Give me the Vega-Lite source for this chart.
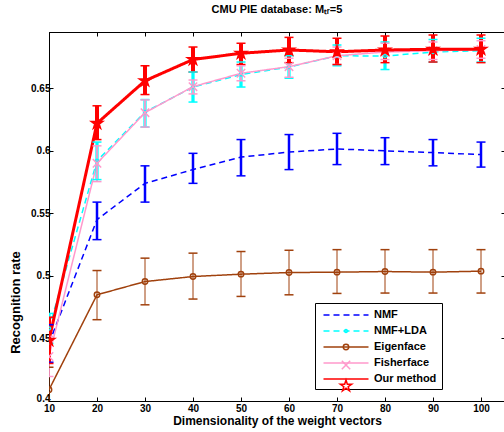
{
  "$schema": "https://vega.github.io/schema/vega-lite/v6.json",
  "width": 456,
  "height": 369,
  "autosize": "none",
  "padding": {"left": 49, "top": 32, "right": 0, "bottom": 31},
  "title": {"text": "CMU PIE database: Mₜᵣ=5", "fontSize": 11, "fontWeight": "bold", "font": "Liberation Sans", "anchor": "middle", "frame": "group", "baseline": "alphabetic", "offset": 8, "color": "black"},
  "data": {"values": [
    {"s": "NMF", "x": 10, "y": 0.446, "lo": 0.431, "hi": 0.461},
    {"s": "NMF", "x": 20, "y": 0.545, "lo": 0.529, "hi": 0.559},
    {"s": "NMF", "x": 30, "y": 0.574, "lo": 0.559, "hi": 0.588},
    {"s": "NMF", "x": 40, "y": 0.585, "lo": 0.574, "hi": 0.598},
    {"s": "NMF", "x": 50, "y": 0.595, "lo": 0.580, "hi": 0.609},
    {"s": "NMF", "x": 60, "y": 0.599, "lo": 0.585, "hi": 0.613},
    {"s": "NMF", "x": 70, "y": 0.6015, "lo": 0.589, "hi": 0.614},
    {"s": "NMF", "x": 80, "y": 0.600, "lo": 0.589, "hi": 0.6105},
    {"s": "NMF", "x": 90, "y": 0.5986, "lo": 0.588, "hi": 0.609},
    {"s": "NMF", "x": 100, "y": 0.597, "lo": 0.587, "hi": 0.607},
    {"s": "NMF+LDA", "x": 10, "y": 0.458, "lo": 0.446, "hi": 0.470},
    {"s": "NMF+LDA", "x": 20, "y": 0.592, "lo": 0.577, "hi": 0.607},
    {"s": "NMF+LDA", "x": 30, "y": 0.631, "lo": 0.619, "hi": 0.641},
    {"s": "NMF+LDA", "x": 40, "y": 0.651, "lo": 0.639, "hi": 0.663},
    {"s": "NMF+LDA", "x": 50, "y": 0.661, "lo": 0.651, "hi": 0.671},
    {"s": "NMF+LDA", "x": 60, "y": 0.667, "lo": 0.658, "hi": 0.676},
    {"s": "NMF+LDA", "x": 70, "y": 0.676, "lo": 0.668, "hi": 0.6846},
    {"s": "NMF+LDA", "x": 80, "y": 0.6758, "lo": 0.665, "hi": 0.687},
    {"s": "NMF+LDA", "x": 90, "y": 0.679, "lo": 0.671, "hi": 0.689},
    {"s": "NMF+LDA", "x": 100, "y": 0.680, "lo": 0.671, "hi": 0.690},
    {"s": "Eigenface", "x": 10, "y": 0.409, "lo": 0.391, "hi": 0.427},
    {"s": "Eigenface", "x": 20, "y": 0.4849, "lo": 0.465, "hi": 0.5043},
    {"s": "Eigenface", "x": 30, "y": 0.4955, "lo": 0.4769, "hi": 0.5142},
    {"s": "Eigenface", "x": 40, "y": 0.4995, "lo": 0.4815, "hi": 0.5182},
    {"s": "Eigenface", "x": 50, "y": 0.5014, "lo": 0.4836, "hi": 0.5195},
    {"s": "Eigenface", "x": 60, "y": 0.5027, "lo": 0.4849, "hi": 0.5205},
    {"s": "Eigenface", "x": 70, "y": 0.503, "lo": 0.486, "hi": 0.521},
    {"s": "Eigenface", "x": 80, "y": 0.5035, "lo": 0.4863, "hi": 0.521},
    {"s": "Eigenface", "x": 90, "y": 0.503, "lo": 0.4863, "hi": 0.521},
    {"s": "Eigenface", "x": 100, "y": 0.5038, "lo": 0.4863, "hi": 0.521},
    {"s": "Fisherface", "x": 10, "y": 0.4356, "lo": 0.4196, "hi": 0.4516},
    {"s": "Fisherface", "x": 20, "y": 0.590, "lo": 0.5754, "hi": 0.604},
    {"s": "Fisherface", "x": 30, "y": 0.6305, "lo": 0.619, "hi": 0.6407},
    {"s": "Fisherface", "x": 40, "y": 0.6513, "lo": 0.6455, "hi": 0.6566},
    {"s": "Fisherface", "x": 50, "y": 0.662, "lo": 0.656, "hi": 0.668},
    {"s": "Fisherface", "x": 60, "y": 0.6673, "lo": 0.6588, "hi": 0.674},
    {"s": "Fisherface", "x": 70, "y": 0.676, "lo": 0.669, "hi": 0.683},
    {"s": "Fisherface", "x": 80, "y": 0.679, "lo": 0.673, "hi": 0.686},
    {"s": "Fisherface", "x": 90, "y": 0.680, "lo": 0.673, "hi": 0.687},
    {"s": "Fisherface", "x": 100, "y": 0.681, "lo": 0.674, "hi": 0.688},
    {"s": "Our method", "x": 10, "y": 0.4485, "lo": 0.430, "hi": 0.467},
    {"s": "Our method", "x": 20, "y": 0.622, "lo": 0.609, "hi": 0.636},
    {"s": "Our method", "x": 30, "y": 0.656, "lo": 0.645, "hi": 0.668},
    {"s": "Our method", "x": 40, "y": 0.673, "lo": 0.663, "hi": 0.683},
    {"s": "Our method", "x": 50, "y": 0.678, "lo": 0.669, "hi": 0.686},
    {"s": "Our method", "x": 60, "y": 0.6806, "lo": 0.6705, "hi": 0.6907},
    {"s": "Our method", "x": 70, "y": 0.6792, "lo": 0.669, "hi": 0.690},
    {"s": "Our method", "x": 80, "y": 0.6806, "lo": 0.6705, "hi": 0.6918},
    {"s": "Our method", "x": 90, "y": 0.6812, "lo": 0.671, "hi": 0.6926},
    {"s": "Our method", "x": 100, "y": 0.6812, "lo": 0.6705, "hi": 0.6926}
  ]},
  "config": {
    "font": "Liberation Sans",
    "view": {"stroke": "black", "strokeWidth": 1},
    "axis": {"domainColor": "black", "tickColor": "black", "tickSize": -4, "labelFontWeight": "bold", "labelFontSize": 10, "labelColor": "black", "titleFontWeight": "bold", "titleColor": "black", "grid": false, "labelPadding": 3, "labelFont": "Liberation Sans", "titleFont": "Liberation Sans", "labelFlush": false, "labelOverlap": false}
  },
  "resolve": {"axis": {"x": "independent", "y": "independent"}},
  "layer": [
    {
      "mark": {"type": "line", "clip": true},
      "encoding": {
        "x": {"field": "x", "type": "quantitative", "scale": {"domain": [10, 105], "nice": false, "zero": false},
              "axis": {"values": [10, 20, 30, 40, 50, 60, 70, 80, 90, 100], "format": "d", "title": "Dimensionality of the weight vectors", "titleFontSize": 12, "titlePadding": 2, "labelPadding": 6}},
        "y": {"field": "y", "type": "quantitative", "scale": {"domain": [0.4, 0.695], "nice": false, "zero": false},
              "axis": {"values": [0.4, 0.45, 0.5, 0.55, 0.6, 0.65], "format": ".2~f", "labelFlush": 1, "labelFlushOffset": 2, "title": "Recognition  rate", "titleFontSize": 13, "titleX": -34, "titleY": 270, "titleAngle": 270, "titleBaseline": "middle", "titleAlign": "center"}},
        "stroke": {"field": "s", "type": "nominal",
                   "scale": {"domain": ["NMF", "NMF+LDA", "Eigenface", "Fisherface", "Our method"], "range": ["#0000ff", "#00ffff", "#a0410d", "#ff99cc", "#ff0000"]},
                   "legend": {"orient": "none", "legendX": 266, "legendY": 271, "title": null, "symbolType": "M-3.75,0H3.75", "symbolSize": 144, "symbolOffset": 19, "labelOffset": 21, "labelFontSize": 11, "labelFontWeight": "bold", "labelColor": "black", "labelFont": "Liberation Sans", "padding": 5, "rowPadding": 4, "strokeColor": "black", "labelExpr": "datum.label + '\u00a0\u00a0\u00a0\u00a0\u00a0\u00a0\u00a0\u00a0\u00a0\u00a0\u00a0\u00a0\u00a0\u00a0'"}},
        "strokeDash": {"field": "s", "type": "nominal", "legend": null,
                       "scale": {"domain": ["NMF", "NMF+LDA", "Eigenface", "Fisherface", "Our method"], "range": [[6, 4], [6, 4], [1, 0], [1, 0], [1, 0]]}},
        "strokeWidth": {"field": "s", "type": "nominal", "legend": null,
                        "scale": {"type": "ordinal", "domain": ["NMF", "NMF+LDA", "Eigenface", "Fisherface", "Our method"], "range": [1.5, 1.5, 1.5, 1.5, 3]}}
      }
    },
    {
      "mark": {"type": "rule", "clip": true},
      "encoding": {
        "x": {"field": "x", "type": "quantitative", "axis": {"orient": "top", "labels": false, "title": null, "values": [10, 20, 30, 40, 50, 60, 70, 80, 90, 100]}},
        "y": {"field": "lo", "type": "quantitative", "axis": {"orient": "right", "labels": false, "title": null, "values": [0.4, 0.45, 0.5, 0.55, 0.6, 0.65]}},
        "y2": {"field": "hi"},
        "stroke": {"field": "s", "type": "nominal", "legend": null},
        "strokeWidth": {"field": "s", "type": "nominal", "legend": null}
      }
    },
    {
      "mark": {"type": "tick", "orient": "horizontal", "thickness": 1.5, "size": 9, "opacity": 1, "clip": true},
      "encoding": {
        "x": {"field": "x", "type": "quantitative", "axis": null},
        "y": {"field": "lo", "type": "quantitative", "axis": null},
        "fill": {"field": "s", "type": "nominal", "legend": null,
                 "scale": {"domain": ["NMF", "NMF+LDA", "Eigenface", "Fisherface", "Our method"], "range": ["#0000ff", "#00ffff", "#a0410d", "#ff99cc", "#ff0000"]}}
      }
    },
    {
      "mark": {"type": "tick", "orient": "horizontal", "thickness": 1.5, "size": 9, "opacity": 1, "clip": true},
      "encoding": {
        "x": {"field": "x", "type": "quantitative", "axis": null},
        "y": {"field": "hi", "type": "quantitative", "axis": null},
        "fill": {"field": "s", "type": "nominal", "legend": null}
      }
    },
    {
      "mark": {"type": "point", "filled": false, "size": 144, "strokeWidth": 1.5, "opacity": 1, "clip": true},
      "encoding": {
        "x": {"field": "x", "type": "quantitative", "axis": null},
        "y": {"field": "y", "type": "quantitative", "axis": null},
        "color": {"field": "s", "type": "nominal",
                  "scale": {"domain": ["NMF", "NMF+LDA", "Eigenface", "Fisherface", "Our method", "~"], "range": ["#0000ff", "#00ffff", "#a0410d", "#ff99cc", "#ff0000", "#ffffff"]},
                  "legend": {"orient": "none", "legendX": 266, "legendY": 271, "title": null, "values": ["NMF", "NMF+LDA", "Eigenface", "Fisherface", "Our method"], "symbolSize": 144, "symbolOffset": 19, "labelOffset": 21, "labelFontSize": 11, "labelFontWeight": "bold", "labelFont": "Liberation Sans", "labelExpr": "''", "padding": 5, "rowPadding": 4, "symbolStrokeWidth": 1.5}},
        "shape": {"field": "s", "type": "nominal",
                  "scale": {"domain": ["NMF", "NMF+LDA", "Eigenface", "Fisherface", "Our method", "~"], "range": ["M0,0", "M-0.25,0A0.25,0.25 0 1,1 0.25,0A0.25,0.25 0 1,1 -0.25,0Z", "M-0.45,0A0.45,0.45 0 1,1 0.45,0A0.45,0.45 0 1,1 -0.45,0Z", "M-0.7,-0.7L0.7,0.7M-0.7,0.7L0.7,-0.7", "M0,-1L0.225,-0.309L0.951,-0.309L0.363,0.118L0.588,0.809L0,0.382L-0.588,0.809L-0.363,0.118L-0.951,-0.309L-0.225,-0.309Z", "M0,0"]},
                  "legend": {"orient": "none", "legendX": 266, "legendY": 271, "title": null, "values": ["NMF", "NMF+LDA", "Eigenface", "Fisherface", "Our method"], "symbolSize": 144, "symbolOffset": 19, "labelOffset": 21, "labelFontSize": 11, "labelFontWeight": "bold", "labelFont": "Liberation Sans", "labelExpr": "''", "padding": 5, "rowPadding": 4, "symbolStrokeWidth": 1.5}}
      }
    },
    {
      "transform": [{"filter": "datum.s == 'Our method'"}],
      "mark": {"type": "point", "filled": true, "size": 144, "opacity": 1, "color": "#ff0000", "clip": true, "shape": "M0,-1L0.225,-0.309L0.951,-0.309L0.363,0.118L0.588,0.809L0,0.382L-0.588,0.809L-0.363,0.118L-0.951,-0.309L-0.225,-0.309Z"},
      "encoding": {
        "x": {"field": "x", "type": "quantitative", "axis": null},
        "y": {"field": "y", "type": "quantitative", "axis": null}
      }
    }
  ]
}
